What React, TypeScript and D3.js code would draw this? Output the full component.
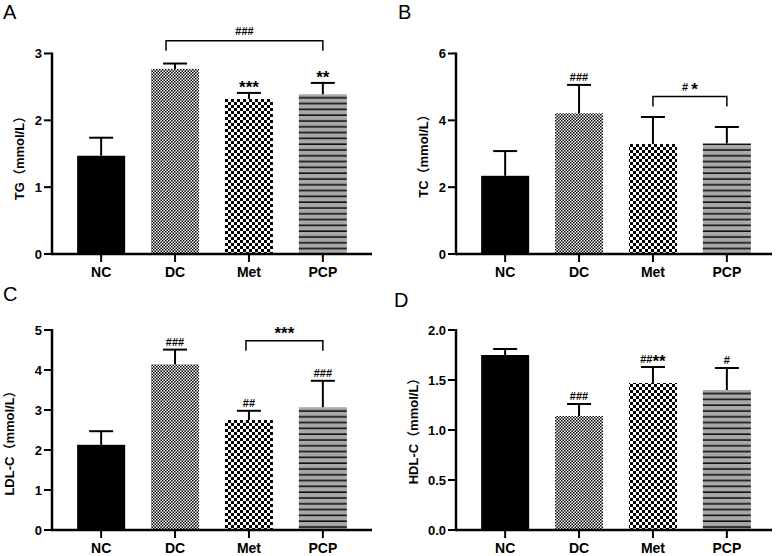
import React, { useEffect, useRef } from 'react';
import * as d3 from 'd3';

const groups = ['NC', 'DC', 'Met', 'PCP'];

const tgMean = [1.47, 2.77, 2.32, 2.39];
const tgErr = [0.27, 0.08, 0.09, 0.17];
const tgMarks = ['', '', '***', '**'];

const tcMean = [2.34, 4.21, 3.29, 3.31];
const tcErr = [0.74, 0.85, 0.81, 0.49];
const tcMarks = ['', '###', '', ''];

const ldlMean = [2.13, 4.14, 2.75, 3.07];
const ldlErr = [0.34, 0.37, 0.23, 0.66];
const ldlMarks = ['', '###', '##', '###'];

const hdlMean = [1.75, 1.14, 1.47, 1.40];
const hdlErr = [0.06, 0.12, 0.16, 0.22];
const hdlMarks = ['', '###', '##**', '#'];

const tgTicks = [0, 1, 2, 3];
const tcTicks = [0, 2, 4, 6];
const ldlTicks = [0, 1, 2, 3, 4, 5];
const hdlTicks = [0, 0.5, 1.0, 1.5, 2.0];

// brackets: [from, to, level (data units), label]
const tgBracket = ['DC', 'PCP', 3.19, '###'];
const tcBracket = ['Met', 'PCP', 4.71, '# *'];
const ldlBracket = ['Met', 'PCP', 4.73, '***'];

const FONT = '"Liberation Sans", Arial, "Noto Sans CJK SC", sans-serif';
const fills = ['#000', 'url(#pat-dc)', 'url(#pat-met)', 'url(#pat-pcp)'];

const panels = [
  { letter: 'A', lx: 3, ly: 19, x0: 52, x1: 372, top: 53.5, base: 254, max: 3, ticks: tgTicks, fmt: d3.format('d'),
    mean: tgMean, err: tgErr, marks: tgMarks, bracket: tgBracket, bracketShift: -9, label: 'TG（mmol/L）', labX: 19, labY: 155 },
  { letter: 'B', lx: 398, ly: 19, x0: 456, x1: 772, top: 53.5, base: 254, max: 6, ticks: tcTicks, fmt: d3.format('d'),
    mean: tcMean, err: tcErr, marks: tcMarks, bracket: tcBracket, bracketShift: 0, label: 'TC（mmol/L）', labX: 423, labY: 153 },
  { letter: 'C', lx: 3, ly: 301, x0: 52, x1: 372, top: 330, base: 530, max: 5, ticks: ldlTicks, fmt: d3.format('d'),
    mean: ldlMean, err: ldlErr, marks: ldlMarks, bracket: ldlBracket, bracketShift: -3, label: 'LDL-C（mmol/L）', labX: 9, labY: 440 },
  { letter: 'D', lx: 394, ly: 307, x0: 456, x1: 772, top: 330, base: 530, max: 2, ticks: hdlTicks, fmt: d3.format('.1f'),
    mean: hdlMean, err: hdlErr, marks: hdlMarks, bracket: null, bracketShift: 0, label: 'HDL-C（mmol/L）', labX: 413, labY: 428 },
];

// "#" runs small, "*" runs larger and pushed down a bit so they sit centred like the original
function addMark(sel, text) {
  const runs = text.match(/#+|\*+|\s+/g) || [];
  let shifted = 0;
  runs.forEach((r) => {
    const star = r[0] === '*';
    const want = star ? 4 : 0;
    sel.append('tspan')
      .attr('font-size', star ? 17 : 11)
      .attr('dy', want - shifted)
      .text(r);
    shifted = want;
  });
}

export default function App() {
  const ref = useRef(null);

  useEffect(() => {
    const svg = d3.select(ref.current);
    svg.selectAll('*').remove();

    const defs = svg.append('defs');
    const dc = defs.append('pattern').attr('id', 'pat-dc').attr('patternUnits', 'userSpaceOnUse').attr('width', 3).attr('height', 3);
    dc.append('rect').attr('width', 3).attr('height', 3).attr('fill', '#fff');
    dc.append('rect').attr('width', 1.5).attr('height', 1.5).attr('fill', '#000');
    dc.append('rect').attr('x', 1.5).attr('y', 1.5).attr('width', 1.5).attr('height', 1.5).attr('fill', '#000');

    const met = defs.append('pattern').attr('id', 'pat-met').attr('patternUnits', 'userSpaceOnUse').attr('width', 6).attr('height', 6);
    met.append('rect').attr('width', 6).attr('height', 6).attr('fill', '#fff');
    met.append('rect').attr('width', 3).attr('height', 3).attr('fill', '#000');
    met.append('rect').attr('x', 3).attr('y', 3).attr('width', 3).attr('height', 3).attr('fill', '#000');

    const pcp = defs.append('pattern').attr('id', 'pat-pcp').attr('patternUnits', 'userSpaceOnUse').attr('width', 6).attr('height', 5.8);
    pcp.append('rect').attr('width', 6).attr('height', 5.8).attr('fill', '#a8a8a8');
    pcp.append('rect').attr('y', 4.2).attr('width', 6).attr('height', 1.6).attr('fill', '#111');

    panels.forEach((p) => {
      const g = svg.append('g').attr('font-family', FONT);
      const x = d3.scaleBand().domain(groups).range([p.x0, p.x0 + 320]).paddingInner(0.35).paddingOuter(0.34);
      const y = d3.scaleLinear().domain([0, p.max]).range([p.base, p.top]);
      const bw = x.bandwidth();
      const cx = (d) => x(d) + bw / 2;

      g.append('text').attr('x', p.lx).attr('y', p.ly).attr('font-size', 20).text(p.letter);

      // bars
      g.selectAll('rect.bar').data(groups).enter().append('rect')
        .attr('class', 'bar')
        .attr('x', (d) => x(d))
        .attr('y', (d, i) => y(p.mean[i]))
        .attr('width', bw)
        .attr('height', (d, i) => p.base - y(p.mean[i]))
        .attr('fill', (d, i) => fills[i]);

      // error bars (upper only)
      groups.forEach((d, i) => {
        const yt = y(p.mean[i] + p.err[i]);
        g.append('line').attr('x1', cx(d)).attr('x2', cx(d)).attr('y1', y(p.mean[i])).attr('y2', yt)
          .attr('stroke', '#000').attr('stroke-width', 2);
        g.append('line').attr('x1', cx(d) - 12).attr('x2', cx(d) + 12).attr('y1', yt).attr('y2', yt)
          .attr('stroke', '#000').attr('stroke-width', 2);
        if (p.marks[i]) {
          const t = g.append('text').attr('x', cx(d)).attr('y', yt - 4)
            .attr('text-anchor', 'middle').attr('font-weight', 'bold');
          addMark(t, p.marks[i]);
        }
      });

      // axes
      g.append('line').attr('x1', p.x0).attr('x2', p.x0).attr('y1', p.base + 1.2).attr('y2', p.top - 1)
        .attr('stroke', '#000').attr('stroke-width', 2.5);
      g.append('line').attr('x1', p.x0).attr('x2', p.x1).attr('y1', p.base).attr('y2', p.base)
        .attr('stroke', '#000').attr('stroke-width', 2.5);

      p.ticks.forEach((t) => {
        g.append('line').attr('x1', p.x0 - 8).attr('x2', p.x0).attr('y1', y(t)).attr('y2', y(t))
          .attr('stroke', '#000').attr('stroke-width', 2);
        g.append('text').attr('x', p.x0 - 10).attr('y', y(t)).attr('dy', '0.35em')
          .attr('text-anchor', 'end').attr('font-size', 13).attr('font-weight', 'bold').text(p.fmt(t));
      });

      groups.forEach((d) => {
        g.append('line').attr('x1', cx(d)).attr('x2', cx(d)).attr('y1', p.base).attr('y2', p.base + 8)
          .attr('stroke', '#000').attr('stroke-width', 2);
        g.append('text').attr('x', cx(d)).attr('y', p.base + 23)
          .attr('text-anchor', 'middle').attr('font-size', 14).attr('font-weight', 'bold').text(d);
      });

      g.append('text')
        .attr('transform', 'translate(' + p.labX + ',' + p.labY + ') rotate(-90)')
        .attr('text-anchor', 'middle').attr('dy', '0.35em')
        .attr('font-size', 13).attr('font-weight', 'bold').text(p.label);

      if (p.bracket) {
        const [from, to, level, label] = p.bracket;
        const bx1 = cx(from) + p.bracketShift;
        const bx2 = cx(to);
        const by = y(level);
        g.append('path').attr('d', `M${bx1},${by + 10}V${by}H${bx2}V${by + 10}`)
          .attr('fill', 'none').attr('stroke', '#000').attr('stroke-width', 1.5);
        const t = g.append('text').attr('x', (bx1 + bx2) / 2).attr('y', by - 6)
          .attr('text-anchor', 'middle').attr('font-weight', 'bold');
        addMark(t, label);
      }
    });
  }, []);

  return (
    <svg ref={ref} width={779} height={556} style={{ position: 'absolute', left: 0, top: 0, background: '#fff' }} />
  );
}
